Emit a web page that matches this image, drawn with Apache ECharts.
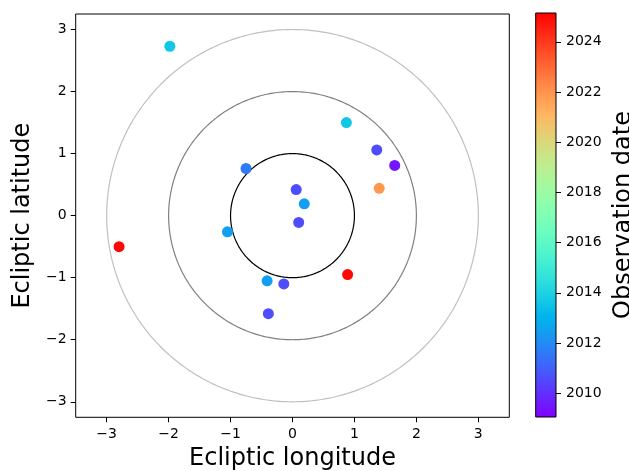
<!DOCTYPE html>
<html>
<head>
<meta charset="utf-8">
<script src="https://cdn.jsdelivr.net/npm/echarts@6/dist/echarts.min.js"></script>
<style>
  html, body { margin: 0; padding: 0; background: #fff; }
  #chart { width: 629px; height: 471px; }
</style>
</head>
<body>
<div id="chart"></div>
<script>
// 觀測點資料 (讀自圖面)
const lonValues = [-1.98, 0.87, 1.36, 1.65, 1.40, -0.75, 0.06, 0.19, 0.10, -1.05, -2.80, 0.89, -0.41, -0.14, -0.39]
const latValues = [2.73, 1.50, 1.06, 0.81, 0.44, 0.76, 0.42, 0.19, -0.11, -0.26, -0.50, -0.95, -1.05, -1.10, -1.58]
const obsYears  = [2013.6, 2013.6, 2010.6, 2009.5, 2021.9, 2011.6, 2010.6, 2012.5, 2010.6, 2012.5, 2025.0, 2025.0, 2012.5, 2010.6, 2010.6]
const ringRadii = [1, 2, 3]
const ringColors = ['#000000', '#808080', '#c0c0c0']
const axisTicks = [-3, -2, -1, 0, 1, 2, 3]
const yearTicks = [2010, 2012, 2014, 2016, 2018, 2020, 2022, 2024]
const yearMin = 2009.05
const yearMax = 2025.15

const FONT = 'DejaVu Sans'

// matplotlib 'rainbow' colormap
const rainbow = (t) => {
  const clamp = (v) => Math.max(0, Math.min(1, v))
  const r = clamp(Math.abs(2 * t - 0.5))
  const g = clamp(Math.sin(Math.PI * t))
  const b = clamp(Math.cos(Math.PI * t / 2))
  const h = (v) => Math.round(v * 255).toString(16).padStart(2, '0')
  return '#' + h(r) + h(g) + h(b)
}
const rainbowColors = []
const gradientStops = []
for (let i = 0; i <= 32; i++) {
  const c = rainbow(i / 32)
  rainbowColors.push(c)
  gradientStops.push({ offset: 1 - i / 32, color: c })
}

const pointData = lonValues.map((x, i) => [x, latValues[i], obsYears[i]])
const ringData = ringRadii.map((r, i) => [0, 0, r, i])

const minusFmt = (v) => (v < 0 ? '\u2212' + Math.abs(v) : String(v))

const chart = echarts.init(document.getElementById('chart'), null, { renderer: 'canvas' })

chart.setOption({
  animation: false,
  textStyle: { fontFamily: FONT },
  grid: [
    {
      left: 75.7, top: 14, width: 433.6, height: 403.3,
      outerBoundsMode: 'none', containLabel: false,
      show: true, borderColor: '#000', borderWidth: 1, backgroundColor: 'transparent'
    },
    {
      left: 535.7, top: 13, width: 20.3, height: 404,
      outerBoundsMode: 'none', containLabel: false,
      show: true, borderColor: '#000', borderWidth: 1,
      backgroundColor: new echarts.graphic.LinearGradient(0, 0, 0, 1, gradientStops)
    }
  ],
  xAxis: [
    {
      gridIndex: 0, type: 'value', min: -3.5, max: 3.5,
      name: 'Ecliptic longitude', nameLocation: 'middle', nameGap: 29,
      nameTextStyle: { fontSize: 24, color: '#000', fontFamily: FONT },
      axisLine: { show: false, onZero: false },
      axisTick: { show: true, length: 5, lineStyle: { color: '#000' }, customValues: axisTicks },
      axisLabel: { fontSize: 14, color: '#000', margin: 10, customValues: axisTicks, formatter: minusFmt },
      splitLine: { show: false }
    },
    {
      gridIndex: 1, type: 'value', min: 0, max: 1, show: false
    }
  ],
  yAxis: [
    {
      gridIndex: 0, type: 'value', min: -3.25, max: 3.25,
      name: 'Ecliptic latitude', nameLocation: 'middle', nameGap: 39,
      nameTextStyle: { fontSize: 24, color: '#000', fontFamily: FONT },
      axisLine: { show: false, onZero: false },
      axisTick: { show: true, length: 5, lineStyle: { color: '#000' }, customValues: axisTicks },
      axisLabel: { fontSize: 14, color: '#000', margin: 9, customValues: axisTicks, formatter: minusFmt },
      splitLine: { show: false }
    },
    {
      gridIndex: 1, type: 'value', min: yearMin, max: yearMax, position: 'right',
      name: 'Observation date', nameLocation: 'middle', nameGap: 56,
      nameTextStyle: { fontSize: 24, color: '#000', fontFamily: FONT },
      axisLine: { show: false, onZero: false },
      axisTick: { show: true, length: 5, lineStyle: { color: '#000' }, customValues: yearTicks },
      axisLabel: { fontSize: 14, color: '#000', margin: 10, customValues: yearTicks, formatter: (v) => String(v) },
      splitLine: { show: false }
    }
  ],
  visualMap: {
    type: 'continuous',
    show: false,
    min: yearMin,
    max: yearMax,
    dimension: 2,
    seriesIndex: 1,
    inRange: { color: rainbowColors }
  },
  series: [
    {
      // 同心圓 r = 1, 2, 3 (以 polyline 近似)
      type: 'custom',
      xAxisIndex: 0, yAxisIndex: 0,
      coordinateSystem: 'cartesian2d',
      clip: true,
      silent: true,
      z: 1,
      data: ringData,
      renderItem: (params, api) => {
        const cx = api.value(0), cy = api.value(1), r = api.value(2)
        const pts = []
        for (let k = 0; k <= 360; k++) {
          const a = k * Math.PI / 180
          pts.push(api.coord([cx + r * Math.cos(a), cy + r * Math.sin(a)]))
        }
        return {
          type: 'polyline',
          shape: { points: pts },
          style: { fill: null, stroke: ringColors[api.value(3)], lineWidth: 1.2 }
        }
      }
    },
    {
      type: 'scatter',
      xAxisIndex: 0, yAxisIndex: 0,
      symbolSize: 11,
      itemStyle: { opacity: 1 },
      z: 3,
      data: pointData
    }
  ]
})
</script>
</body>
</html>
